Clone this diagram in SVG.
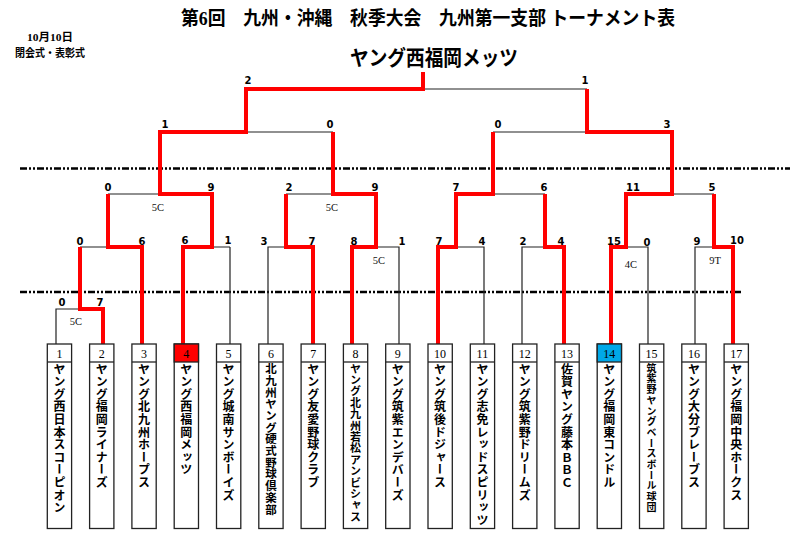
<svg xmlns="http://www.w3.org/2000/svg" width="800" height="535" viewBox="0 0 800 535">
<style>
.ttl{font-family:"Liberation Serif","Noto Sans CJK JP",serif;font-weight:bold;fill:#000}
.sc{font-family:"DejaVu Sans",sans-serif;font-weight:bold;font-size:10px;text-anchor:middle;fill:#000}
.gm{font-family:"Liberation Serif",serif;font-size:10.5px;text-anchor:middle;fill:#111}
.bk{fill:none;stroke:#222;stroke-width:1.2}
.rd{fill:none;stroke:#ff0000;stroke-width:4;stroke-linejoin:miter;stroke-linecap:butt}
.dd{fill:none;stroke:#000;stroke-width:2.4;stroke-dasharray:7 2 2 2 2 2}
.box{fill:#fff;stroke:#222;stroke-width:1.3}
.num{font-family:"Liberation Serif",serif;font-size:12px;text-anchor:middle;fill:#000}
.nm{font-family:"Noto Sans CJK JP",sans-serif;font-weight:bold;font-size:12px;letter-spacing:0.6px;writing-mode:vertical-rl;fill:#000}
</style>
<rect width="800" height="535" fill="#fff"/>
<g id="header">
<text class="ttl" x="181" y="25" font-size="19" textLength="494" lengthAdjust="spacingAndGlyphs">第6回　九州・沖縄　秋季大会　九州第一支部 トーナメント表</text>
<text class="ttl" x="350" y="65" font-size="21" textLength="168" lengthAdjust="spacingAndGlyphs">ヤング西福岡メッツ</text>
<text class="ttl" x="27" y="41" font-size="11" textLength="46" lengthAdjust="spacingAndGlyphs">10月10日</text>
<text class="ttl" x="15" y="57" font-size="11" textLength="70" lengthAdjust="spacingAndGlyphs">閉会式・表彰式</text>
</g>
<g id="dividers">
<line class="dd" x1="20" y1="168.5" x2="790" y2="168.5"/>
<line class="dd" x1="20" y1="292" x2="743" y2="292"/>
</g>
<g id="connectors">
<path class="bk" d="M56,344V309H103 M80,247H142 M183,247H230 M230,344V247 M268,344V247H313 M352,247H399V344 M438,247H484V344 M522,344V247H564 M611,247H648V344 M695,344V247H733 M108,194H212 M286,194H376 M456,194H545 M626,194H714 M160,132H333 M493,132H672 M246,89H587"/>
<path class="rd" d="M103,344V309H80V247"/>
<path class="rd" d="M142,344V247H108V194"/>
<path class="rd" d="M183,344V247H212V194H160V132H246V89H423V72"/>
<path class="rd" d="M313,344V247H286V194"/>
<path class="rd" d="M352,344V247H376V194H333V132"/>
<path class="rd" d="M438,344V247H456V194H493V132"/>
<path class="rd" d="M564,344V247H545V194"/>
<path class="rd" d="M611,344V247H626V194H672V132H587V89"/>
<path class="rd" d="M733,344V247H714V194"/>
</g>
<g id="scores">
<text class="sc" x="62" y="306">0</text><text class="sc" x="100" y="306">7</text>
<text class="sc" x="80" y="245">0</text><text class="sc" x="142" y="245">6</text>
<text class="sc" x="185" y="244">6</text><text class="sc" x="228" y="244">1</text>
<text class="sc" x="264" y="245">3</text><text class="sc" x="312" y="245">7</text>
<text class="sc" x="354" y="245">8</text><text class="sc" x="402" y="245">1</text>
<text class="sc" x="439" y="245">7</text><text class="sc" x="482" y="245">4</text>
<text class="sc" x="523" y="245">2</text><text class="sc" x="561" y="245">4</text>
<text class="sc" x="614" y="245">15</text><text class="sc" x="647" y="246">0</text>
<text class="sc" x="697" y="245">9</text><text class="sc" x="737" y="244">10</text>
<text class="sc" x="108" y="191">0</text><text class="sc" x="211" y="191">9</text>
<text class="sc" x="289" y="191">2</text><text class="sc" x="375" y="191">9</text>
<text class="sc" x="456" y="191">7</text><text class="sc" x="544" y="191">6</text>
<text class="sc" x="633" y="191">11</text><text class="sc" x="712" y="191">5</text>
<text class="sc" x="165" y="128">1</text><text class="sc" x="330" y="128">0</text>
<text class="sc" x="498" y="128">0</text><text class="sc" x="667" y="128">3</text>
<text class="sc" x="248" y="84">2</text><text class="sc" x="585" y="84">1</text>
<text class="gm" x="76" y="325">5C</text>
<text class="gm" x="158" y="211">5C</text>
<text class="gm" x="332" y="211">5C</text>
<text class="gm" x="379" y="264">5C</text>
<text class="gm" x="631" y="268">4C</text>
<text class="gm" x="715" y="264">9T</text>
</g>
<g id="team1"><rect class="box" x="47.3" y="344" width="24.3" height="184.5"/><line class="box" x1="47.3" y1="362" x2="71.6" y2="362"/><text class="num" x="59.4" y="358">1</text><text class="nm" x="59.4" y="363">ヤング西日本スコーピオン</text></g>
<g id="team2"><rect class="box" x="89.6" y="344" width="24.3" height="184.5"/><line class="box" x1="89.6" y1="362" x2="113.9" y2="362"/><text class="num" x="101.7" y="358">2</text><text class="nm" x="101.7" y="363">ヤング福岡ライナーズ</text></g>
<g id="team3"><rect class="box" x="131.9" y="344" width="24.3" height="184.5"/><line class="box" x1="131.9" y1="362" x2="156.2" y2="362"/><text class="num" x="144" y="358">3</text><text class="nm" x="144" y="363">ヤング北九州ホープス</text></g>
<g id="team4"><rect class="box" x="174.2" y="344" width="24.3" height="184.5"/><rect x="174.2" y="344" width="24.3" height="18" fill="#ff0000" stroke="#222" stroke-width="1.3"/><text class="num" x="186.3" y="358">4</text><text class="nm" x="186.3" y="363">ヤング西福岡メッツ</text></g>
<g id="team5"><rect class="box" x="216.5" y="344" width="24.3" height="184.5"/><line class="box" x1="216.5" y1="362" x2="240.8" y2="362"/><text class="num" x="228.6" y="358">5</text><text class="nm" x="228.6" y="363">ヤング城南サンボーイズ</text></g>
<g id="team6"><rect class="box" x="258.8" y="344" width="24.3" height="184.5"/><line class="box" x1="258.8" y1="362" x2="283.1" y2="362"/><text class="num" x="270.9" y="358">6</text><text class="nm" x="270.9" y="363" style="font-size:11.5px;letter-spacing:0.2px">北九州ヤング硬式野球倶楽部</text></g>
<g id="team7"><rect class="box" x="301.1" y="344" width="24.3" height="184.5"/><line class="box" x1="301.1" y1="362" x2="325.4" y2="362"/><text class="num" x="313.2" y="358">7</text><text class="nm" x="313.2" y="363">ヤング友愛野球クラブ</text></g>
<g id="team8"><rect class="box" x="343.4" y="344" width="24.3" height="184.5"/><line class="box" x1="343.4" y1="362" x2="367.7" y2="362"/><text class="num" x="355.5" y="358">8</text><text class="nm" x="355.5" y="363" style="font-size:11px;letter-spacing:0.4px">ヤング北九州若松アンビシャス</text></g>
<g id="team9"><rect class="box" x="385.7" y="344" width="24.3" height="184.5"/><line class="box" x1="385.7" y1="362" x2="410" y2="362"/><text class="num" x="397.8" y="358">9</text><text class="nm" x="397.8" y="363">ヤング筑紫エンデバーズ</text></g>
<g id="team10"><rect class="box" x="428" y="344" width="24.3" height="184.5"/><line class="box" x1="428" y1="362" x2="452.3" y2="362"/><text class="num" x="440.1" y="358">10</text><text class="nm" x="440.1" y="363">ヤング筑後ドジャース</text></g>
<g id="team11"><rect class="box" x="470.3" y="344" width="24.3" height="184.5"/><line class="box" x1="470.3" y1="362" x2="494.6" y2="362"/><text class="num" x="482.4" y="358">11</text><text class="nm" x="482.4" y="363">ヤング志免レッドスピリッツ</text></g>
<g id="team12"><rect class="box" x="512.6" y="344" width="24.3" height="184.5"/><line class="box" x1="512.6" y1="362" x2="536.9" y2="362"/><text class="num" x="524.7" y="358">12</text><text class="nm" x="524.7" y="363">ヤング筑紫野ドリームズ</text></g>
<g id="team13"><rect class="box" x="554.9" y="344" width="24.3" height="184.5"/><line class="box" x1="554.9" y1="362" x2="579.2" y2="362"/><text class="num" x="567" y="358">13</text><text class="nm" x="567" y="363">佐賀ヤング藤本ＢＢＣ</text></g>
<g id="team14"><rect class="box" x="597.2" y="344" width="24.3" height="184.5"/><rect x="597.2" y="344" width="24.3" height="18" fill="#00a8e8" stroke="#222" stroke-width="1.3"/><text class="num" x="609.3" y="358">14</text><text class="nm" x="609.3" y="363">ヤング福岡東コンドル</text></g>
<g id="team15"><rect class="box" x="639.5" y="344" width="24.3" height="184.5"/><line class="box" x1="639.5" y1="362" x2="663.8" y2="362"/><text class="num" x="651.6" y="358">15</text><text class="nm" x="651.6" y="363" style="font-size:10px;letter-spacing:0.7px">筑紫野ヤングベースボール球団</text></g>
<g id="team16"><rect class="box" x="681.8" y="344" width="24.3" height="184.5"/><line class="box" x1="681.8" y1="362" x2="706.1" y2="362"/><text class="num" x="693.9" y="358">16</text><text class="nm" x="693.9" y="363">ヤング大分ブレーブス</text></g>
<g id="team17"><rect class="box" x="724.1" y="344" width="24.3" height="184.5"/><line class="box" x1="724.1" y1="362" x2="748.4" y2="362"/><text class="num" x="736.2" y="358">17</text><text class="nm" x="736.2" y="363">ヤング福岡中央ホークス</text></g>
</svg>
